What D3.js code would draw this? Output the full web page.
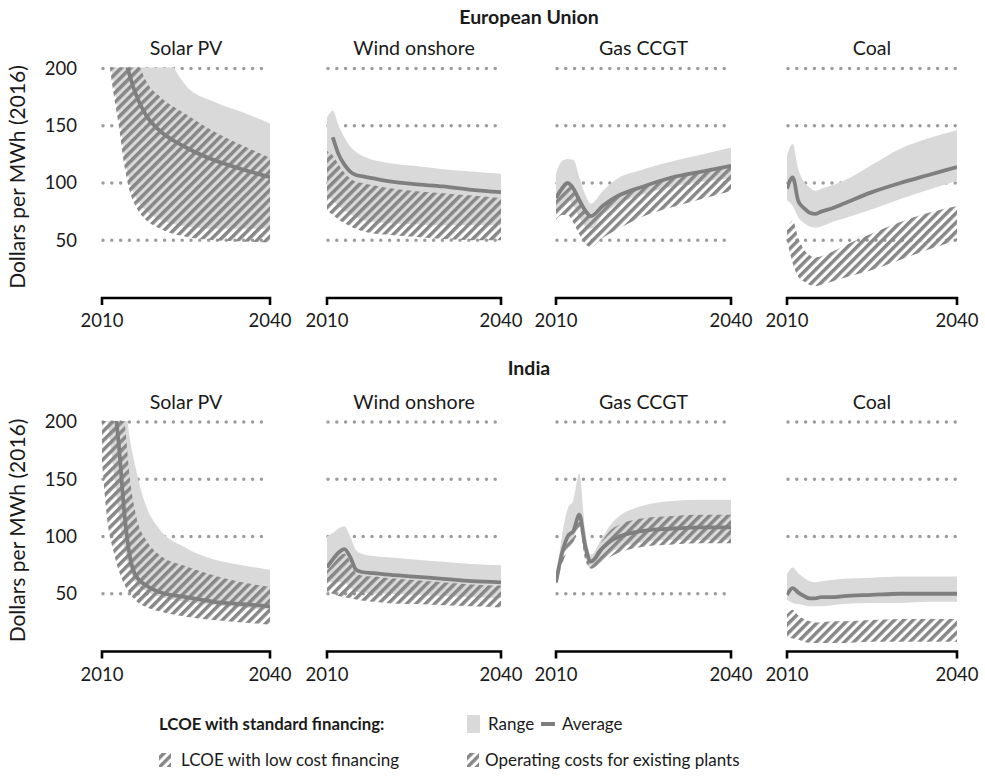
<!DOCTYPE html>
<html><head><meta charset="utf-8">
<script src="https://cdn.jsdelivr.net/npm/d3@7"></script>
<style>
body{margin:0;background:#fff}
svg{display:block}
text{font-family:Lato,"Open Sans",sans-serif;fill:#1a1a1a}
</style>
</head><body>
<svg id="chart" width="985" height="776"></svg>
<script>
// ---------- data ----------
const years = [2010, 2011, 2012, 2013, 2014, 2015, 2016, 2018, 2020, 2025, 2030, 2035, 2040];
const regions = ["European Union", "India"];
const techs = ["Solar PV", "Wind onshore", "Gas CCGT", "Coal"];
const yTicks = [50, 100, 150, 200];
const xTicks = [2010, 2040];

const euSolar = {
  rangeHi: [420, 400, 380, 360, 340, 310, 290, 260, 232, 185, 171, 162, 152],
  rangeLo: [265, 225, 190, 160, 125, 100, 88, 75, 69, 62, 60, 60, 60],
  avg:     [330, 290, 260, 235, 212, 193, 178, 158, 147, 131, 120, 112, 105],
  hatchHi: [400, 360, 330, 300, 270, 240, 215, 188, 177, 160, 145, 133, 122],
  hatchLo: [250, 215, 180, 150, 115, 92, 80, 67, 61, 53, 50, 49, 48]
};
const euWind = {
  rangeHi: [157, 163, 150, 140, 132, 127, 124, 120, 118, 115, 112, 110, 108],
  rangeLo: [88, 85, 80, 76, 73, 70, 68, 66, 65, 64, 63, 63, 63],
  avg:     [null, 140, 125, 116, 110, 107, 106, 104, 102, 99, 97, 94, 92],
  hatchHi: [128, 124, 116, 109, 104, 101, 100, 98, 96, 93, 91, 89, 87],
  hatchLo: [76, 72, 68, 65, 62, 60, 58, 56, 55, 53, 51, 50, 50]
};
const euGas = {
  rangeHi: [108, 119, 121, 120, 105, 90, 82, 93, 102, 112, 119, 125, 131],
  rangeLo: [75, 82, 86, 80, 70, 62, 60, 72, 80, 90, 97, 101, 104],
  avg:     [87, 95, 100, 95, 85, 76, 71, 80, 87, 97, 105, 110, 115],
  hatchHi: [86, 94, 99, 94, 84, 75, 70, 79, 86, 96, 104, 109, 114],
  hatchLo: [68, 72, 72, 65, 55, 47, 44, 52, 58, 71, 79, 86, 93]
};
const euCoal = {
  rangeHi: [124, 134, 112, 101, 96, 93, 95, 98, 102, 116, 130, 139, 146],
  rangeLo: [85, 80, 70, 65, 62, 61, 62, 66, 69, 77, 86, 94, 102],
  avg:     [95, 105, 84, 78, 74, 73, 75, 78, 82, 92, 100, 107, 114],
  hatchHi: [60, 67, 52, 42, 37, 35, 36, 40, 45, 56, 66, 74, 80],
  hatchLo: [50, 30, 18, 14, 11, 10, 11, 14, 17, 24, 33, 42, 50]
};
const inSolar = {
  rangeHi: [400, 370, 330, 280, 225, 185, 160, 125, 108, 90, 80, 75, 71],
  rangeLo: [240, 200, 160, 120, 90, 70, 60, 52, 48, 43, 40, 38, 36],
  avg:     [290, 260, 225, 180, 120, 82, 66, 57, 52, 47, 43, 41, 39],
  hatchHi: [330, 300, 270, 235, 202, 150, 120, 96, 85, 74, 66, 60, 56],
  hatchLo: [165, 112, 88, 70, 58, 50, 44, 38, 35, 30, 27, 25, 23]
};
const inWind = {
  rangeHi: [100, 103, 107, 109, 100, 88, 85, 83, 82, 80, 78, 76, 75],
  rangeLo: [60, 60, 60, 60, 55, 52, 51, 50, 50, 49, 48, 47, 46],
  avg:     [73, 80, 86, 89, 82, 71, 69, 68, 67, 65, 63, 61, 60],
  hatchHi: [70, 76, 82, 85, 78, 68, 66, 65, 64, 62, 60, 58, 57],
  hatchLo: [52, 50, 48, 47, 46, 45, 44, 43, 42, 41, 40, 39, 38]
};
const inGas = {
  rangeHi: [60, 100, 124, 132, 155, 105, 84, 100, 114, 127, 131, 132, 132],
  rangeLo: [58, 78, 92, 98, 110, 82, 72, 80, 88, 95, 97, 97, 97],
  avg:     [60, 85, 100, 105, 119, 92, 78, 90, 98, 105, 107, 108, 108],
  hatchHi: [60, 82, 97, 103, 116, 88, 80, 97, 108, 116, 118, 119, 119],
  hatchLo: [58, 75, 88, 95, 108, 80, 72, 78, 84, 91, 93, 94, 94]
};
const inCoal = {
  rangeHi: [67, 73, 68, 64, 61, 60, 61, 62, 63, 64, 65, 65, 65],
  rangeLo: [45, 42, 41, 40, 39, 39, 39, 40, 41, 42, 42, 43, 43],
  avg:     [49, 55, 51, 48, 46, 46, 47, 47, 48, 49, 50, 50, 50],
  hatchHi: [32, 36, 31, 28, 26, 25, 25, 26, 26, 27, 28, 28, 28],
  hatchLo: [12, 11, 10, 8, 7, 7, 7, 7, 7, 8, 8, 8, 8]
};
const panelData = [[euSolar, euWind, euGas, euCoal], [inSolar, inWind, inGas, inCoal]];

// ---------- layout ----------
const colX0 = [102, 327, 556, 787];
const colX1 = [270, 501, 731, 957];
const rowY0 = [297.5, 651];   // pixel of value 0
const rowH = 229;             // pixels from 0 to 200
const titleY = [17, 368];
const FS = "18.5px";
const LFS = "17px";

const C = {range: "#d9d9d9", avg: "#7f7f7f", hatch: "#878787", dots: "#9c9c9c", axis: "#000"};

const svg = d3.select("#chart");
const defs = svg.append("defs");
const pat = defs.append("pattern").attr("id", "hatch")
  .attr("patternUnits", "userSpaceOnUse").attr("width", 6.6).attr("height", 10)
  .attr("patternTransform", "rotate(45)");
pat.append("rect").attr("x", 0).attr("y", 0).attr("width", 3.5).attr("height", 10).attr("fill", C.hatch);

regions.forEach((reg, r) => {
  const y = d3.scaleLinear().domain([0, 200]).range([rowY0[r], rowY0[r] - rowH]);
  svg.append("text").attr("x", 529).attr("y", titleY[r]).attr("dy", "0.35em").attr("text-anchor", "middle")
    .style("font-weight", "bold").style("font-size", "19.5px").text(reg);

  // y-axis title
  const ym = (y(0) + y(200)) / 2 - 6;
  svg.append("text").attr("transform", `translate(25,${ym}) rotate(-90)`)
    .attr("text-anchor", "middle").style("font-size", "21px").text("Dollars per MWh (2016)");

  // y tick labels
  svg.append("g").selectAll("text").data(yTicks).join("text")
    .attr("x", 77).attr("y", d => y(d)).attr("dy", "0.35em").attr("text-anchor", "end")
    .style("font-size", FS).text(d => d);

  techs.forEach((tech, c) => {
    const d = panelData[r][c];
    const x = d3.scaleLinear().domain([2010, 2040]).range([colX0[c], colX1[c]]);
    const g = svg.append("g");
    const clipId = `clip-${r}-${c}`;
    defs.append("clipPath").attr("id", clipId).append("rect")
      .attr("x", x(2010)).attr("y", y(200) - 1).attr("width", x(2040) - x(2010)).attr("height", y(0) - y(200) + 1);

    // title
    g.append("text").attr("x", (x(2010) + x(2040)) / 2).attr("y", y(200) - 20).attr("dy", "0.35em")
      .attr("text-anchor", "middle").style("font-size", "19.6px").text(tech);

    // dotted gridlines
    g.append("g").selectAll("line").data(yTicks).join("line")
      .attr("x1", x(2010) + 1).attr("x2", x(2040)).attr("y1", d => y(d)).attr("y2", d => y(d))
      .attr("stroke", C.dots).attr("stroke-width", 3.5).attr("stroke-linecap", "round")
      .attr("stroke-dasharray", "0 8.8");

    const plot = g.append("g").attr("clip-path", `url(#${clipId})`);
    const idx = d3.range(years.length);
    const area = (lo, hi) => d3.area().curve(d3.curveMonotoneX)
      .defined(i => lo[i] != null && hi[i] != null)
      .x(i => x(years[i])).y0(i => y(lo[i])).y1(i => y(hi[i]));
    plot.append("path").attr("d", area(d.rangeLo, d.rangeHi)(idx)).attr("fill", C.range);
    plot.append("path").attr("d", area(d.hatchLo, d.hatchHi)(idx)).attr("fill", "url(#hatch)");
    plot.append("path").attr("d", d3.line().curve(d3.curveMonotoneX)
        .defined(i => d.avg[i] != null).x(i => x(years[i])).y(i => y(d.avg[i]))(idx))
      .attr("fill", "none").attr("stroke", C.avg).attr("stroke-width", 3.8).attr("stroke-linejoin", "round");

    // x axis bracket
    const axY = y(0) + 0.5;
    g.append("path").attr("d", `M${x(2010)},${axY + 7}V${axY}H${x(2040)}V${axY + 7}`)
      .attr("fill", "none").attr("stroke", C.axis).attr("stroke-width", 2.6);
    g.append("g").selectAll("text").data(xTicks).join("text")
      .attr("x", v => x(v)).attr("y", axY + 23).attr("dy", "0.35em").attr("text-anchor", "middle")
      .style("font-size", FS).text(v => v);
  });
});

// ---------- legend ----------
const lg = svg.append("g");
lg.append("text").attr("x", 159).attr("y", 724).attr("dy", "0.35em")
  .style("font-weight", "bold").style("font-size", "16.8px").text("LCOE with standard financing:");
lg.append("rect").attr("x", 467).attr("y", 715).attr("width", 13).attr("height", 18).attr("fill", C.range);
lg.append("text").attr("x", 488).attr("y", 724).attr("dy", "0.35em").style("font-size", LFS).text("Range");
lg.append("line").attr("x1", 541).attr("x2", 555).attr("y1", 724).attr("y2", 724)
  .attr("stroke", C.avg).attr("stroke-width", 4);
lg.append("text").attr("x", 562).attr("y", 724).attr("dy", "0.35em").style("font-size", LFS).text("Average");
lg.append("rect").attr("x", 159).attr("y", 753).attr("width", 12).attr("height", 14).attr("fill", "url(#hatch)");
lg.append("text").attr("x", 181).attr("y", 760).attr("dy", "0.35em").style("font-size", LFS).text("LCOE with low cost financing");
lg.append("rect").attr("x", 467).attr("y", 753).attr("width", 12).attr("height", 14).attr("fill", "url(#hatch)");
lg.append("text").attr("x", 485).attr("y", 760).attr("dy", "0.35em").style("font-size", LFS).text("Operating costs for existing plants");
</script>
</body></html>
